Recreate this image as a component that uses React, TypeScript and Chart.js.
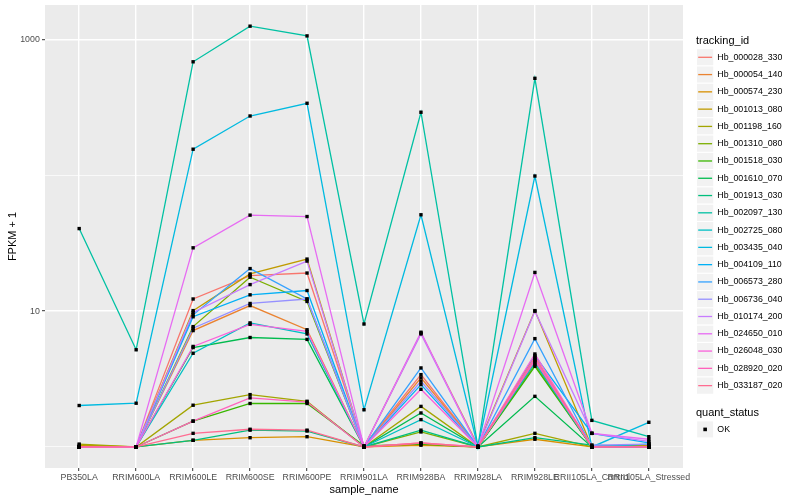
import React, { useEffect, useRef } from "react";
import { Chart, registerables } from "chart.js";

Chart.register(...registerables);

const FONT = "'Liberation Sans', Arial, Helvetica, sans-serif";

const categories = [
  "PB350LA",
  "RRIM600LA",
  "RRIM600LE",
  "RRIM600SE",
  "RRIM600PE",
  "RRIM901LA",
  "RRIM928BA",
  "RRIM928LA",
  "RRIM928LE",
  "RRII105LA_Control",
  "RRII105LA_Stressed",
];

const trackingIds = [
  "Hb_000028_330",
  "Hb_000054_140",
  "Hb_000574_230",
  "Hb_001013_080",
  "Hb_001198_160",
  "Hb_001310_080",
  "Hb_001518_030",
  "Hb_001610_070",
  "Hb_001913_030",
  "Hb_002097_130",
  "Hb_002725_080",
  "Hb_003435_040",
  "Hb_004109_110",
  "Hb_006573_280",
  "Hb_006736_040",
  "Hb_010174_200",
  "Hb_024650_010",
  "Hb_026048_030",
  "Hb_028920_020",
  "Hb_033187_020",
];

const seriesColors = [
  "#F8766D", "#EA8331", "#D89000", "#C09B00", "#A3A500",
  "#7CAE00", "#39B600", "#00BB4E", "#00BF7D", "#00C1A3",
  "#00BFC4", "#00BAE0", "#00B0F6", "#35A2FF", "#9590FF",
  "#C77CFF", "#E76BF3", "#FA62DB", "#FF62BC", "#FF6C91",
];

// FPKM + 1 per sample (same order as categories)
const hb000028_330 = [1.0, 1.0, 12.3, 18.3, 19.1, 1.02, 3.41, 1.0, 4.53, 1.0, 1.02];
const hb000054_140 = [1.0, 1.0, 7.2, 11.0, 7.3, 1.0, 3.23, 1.0, 4.27, 1.0, 1.0];
const hb000574_230 = [1.0, 1.0, 1.12, 1.17, 1.19, 1.0, 1.03, 1.0, 1.14, 1.0, 1.0];
const hb001013_080 = [1.03, 1.0, 10.1, 18.8, 24.2, 1.0, 6.9, 1.02, 10.1, 1.0, 1.03];
const hb001198_160 = [1.05, 1.0, 2.03, 2.43, 2.17, 1.0, 1.99, 1.0, 1.26, 1.0, 1.0];
const hb001310_080 = [1.0, 1.0, 7.7, 17.8, 11.8, 1.0, 1.29, 1.0, 4.04, 1.0, 1.0];
const hb001518_030 = [1.0, 1.0, 1.55, 2.09, 2.09, 1.02, 1.05, 1.0, 3.93, 1.0, 1.0];
const hb001610_070 = [1.0, 1.0, 5.4, 6.4, 6.2, 1.0, 1.78, 1.0, 2.36, 1.0, 1.0];
const hb001913_030 = [1.0, 1.0, 1.12, 1.33, 1.31, 1.0, 1.33, 1.0, 1.17, 1.03, 1.0];
const hb002097_130 = [40.6, 5.2, 687, 1257, 1066, 8.05, 292, 1.0, 519, 1.57, 1.19];
const hb002725_080 = [1.0, 1.0, 4.9, 8.2, 6.8, 1.0, 1.59, 1.0, 4.16, 1.0, 1.05];
const hb003435_040 = [2.02, 2.1, 156, 274, 340, 1.88, 51.3, 1.0, 99, 1.0, 1.52];
const hb004109_110 = [1.0, 1.0, 9.1, 13.2, 14.2, 1.0, 2.88, 1.0, 4.71, 1.26, 1.07];
const hb006573_280 = [1.0, 1.0, 9.4, 20.6, 12.3, 1.0, 3.82, 1.0, 6.28, 1.0, 1.0];
const hb006736_040 = [1.0, 1.0, 7.5, 11.4, 12.3, 1.0, 3.05, 1.0, 4.4, 1.03, 1.05];
const hb010174_200 = [1.0, 1.0, 9.8, 15.7, 23.4, 1.0, 6.8, 1.0, 10.0, 1.26, 1.1];
const hb024650_010 = [1.0, 1.0, 29.3, 51, 49.8, 1.0, 7.0, 1.0, 19.3, 1.26, 1.14];
const hb026048_030 = [1.0, 1.0, 5.5, 8.0, 7.1, 1.0, 2.66, 1.0, 4.84, 1.0, 1.0];
const hb028920_020 = [1.0, 1.0, 1.55, 2.3, 2.14, 1.0, 1.07, 1.0, 4.35, 1.0, 1.0];
const hb033187_020 = [1.0, 1.0, 1.26, 1.35, 1.33, 1.0, 1.07, 1.0, 4.6, 1.0, 1.0];

const seriesValues = [
  hb000028_330, hb000054_140, hb000574_230, hb001013_080, hb001198_160,
  hb001310_080, hb001518_030, hb001610_070, hb001913_030, hb002097_130,
  hb002725_080, hb003435_040, hb004109_110, hb006573_280, hb006736_040,
  hb010174_200, hb024650_010, hb026048_030, hb028920_020, hb033187_020,
];

const yGridValues = [1, 10, 100, 1000];
const yLabelValues = [10, 1000];

const panelBgPlugin = {
  id: "panelBg",
  beforeDraw(chart: any) {
    const { ctx, chartArea } = chart;
    ctx.save();
    ctx.fillStyle = "#FFFFFF";
    ctx.fillRect(0, 0, chart.width, chart.height);
    ctx.fillStyle = "#EBEBEB";
    ctx.fillRect(chartArea.left, chartArea.top, chartArea.right - chartArea.left, chartArea.bottom - chartArea.top);
    ctx.restore();
  },
};

const legendPlugin = {
  id: "ggLegend",
  afterDraw(chart: any) {
    const ctx = chart.ctx;
    ctx.save();
    ctx.textBaseline = "middle";
    ctx.textAlign = "left";
    const keyX = 696.5;
    const keyS = 17.28;
    const first = 57.3;
    ctx.fillStyle = "#000000";
    ctx.font = `11px ${FONT}`;
    ctx.fillText("tracking_id", 696, 40.7);
    trackingIds.forEach((id, i) => {
      const cy = first + i * keyS;
      ctx.fillStyle = "#F2F2F2";
      ctx.fillRect(keyX, cy - keyS / 2, keyS, keyS);
      ctx.strokeStyle = "#FFFFFF";
      ctx.lineWidth = 1;
      ctx.strokeRect(keyX, cy - keyS / 2, keyS, keyS);
      ctx.strokeStyle = seriesColors[i];
      ctx.lineWidth = 1.3;
      ctx.beginPath();
      ctx.moveTo(keyX + 1.7, cy);
      ctx.lineTo(keyX + keyS - 1.7, cy);
      ctx.stroke();
      ctx.fillStyle = "#000000";
      ctx.font = `8.8px ${FONT}`;
      ctx.fillText(id, 717.3, cy);
    });
    ctx.font = `11px ${FONT}`;
    ctx.fillStyle = "#000000";
    ctx.fillText("quant_status", 696, 413);
    const oy = 429.4;
    ctx.fillStyle = "#F2F2F2";
    ctx.fillRect(keyX, oy - keyS / 2, keyS, keyS);
    ctx.strokeStyle = "#FFFFFF";
    ctx.strokeRect(keyX, oy - keyS / 2, keyS, keyS);
    ctx.fillStyle = "#000000";
    ctx.fillRect(keyX + keyS / 2 - 1.8, oy - 1.8, 3.6, 3.6);
    ctx.font = `8.8px ${FONT}`;
    ctx.fillText("OK", 717.3, oy);
    ctx.restore();
  },
};

export default function App() {
  const canvasRef = useRef<HTMLCanvasElement | null>(null);

  useEffect(() => {
    document.body.style.margin = "0";
    const canvas = canvasRef.current;
    if (!canvas) return;

    const lineDatasets = seriesValues.map((vals, idx) => ({
      label: trackingIds[idx],
      data: vals.map((v, i) => ({ x: i + 1, y: v })),
      showLine: true,
      borderColor: seriesColors[idx],
      backgroundColor: seriesColors[idx],
      borderWidth: 1.3,
      pointRadius: 0,
      pointHoverRadius: 0,
      tension: 0,
      order: seriesValues.length - idx,
    }));

    const pointDataset = {
      label: "OK",
      data: seriesValues.flatMap((vals) => vals.map((v, i) => ({ x: i + 1, y: v }))),
      showLine: false,
      pointStyle: "rect",
      pointRadius: 2.4,
      pointHoverRadius: 2.4,
      backgroundColor: "#000000",
      borderColor: "#000000",
      borderWidth: 0,
      order: -1,
    };

    const chart = new Chart(canvas, {
      type: "scatter",
      data: { datasets: [...lineDatasets, pointDataset] as any },
      plugins: [panelBgPlugin, legendPlugin],
      options: {
        responsive: false,
        animation: false,
        events: [],
        layout: { padding: { left: 0, right: 117, top: 5, bottom: 0 } },
        plugins: {
          legend: { display: false },
          tooltip: { enabled: false },
        },
        scales: {
          x: {
            type: "linear",
            min: 0.4,
            max: 11.6,
            afterBuildTicks: (s: any) => {
              s.ticks = categories.map((_, i) => ({ value: i + 1 }));
            },
            afterFit: (s: any) => {
              s.height = 32;
              s.paddingLeft = 0;
              s.paddingRight = 0;
            },
            ticks: {
              autoSkip: false,
              maxRotation: 0,
              minRotation: 0,
              padding: 1.5,
              color: "#4D4D4D",
              font: { family: FONT, size: 8.8 },
              callback: (v: any) => categories[Math.round(Number(v)) - 1] ?? "",
            },
            grid: {
              color: "#FFFFFF",
              lineWidth: 1.4,
              drawTicks: true,
              tickLength: 3,
              tickColor: "#333333",
              tickWidth: 1,
            },
            border: { display: false },
            title: {
              display: true,
              text: "sample_name",
              color: "#000000",
              font: { family: FONT, size: 11 },
              padding: { top: 0, bottom: 3.4 },
            },
          },
          y: {
            type: "logarithmic",
            min: 0.7,
            max: 1800,
            afterBuildTicks: (s: any) => {
              s.ticks = yGridValues.map((v) => ({ value: v, major: yLabelValues.includes(v) }));
            },
            afterFit: (s: any) => {
              s.width = 45;
              s.paddingTop = 0;
              s.paddingBottom = 0;
            },
            ticks: {
              autoSkip: false,
              padding: 2.2,
              color: "#4D4D4D",
              font: { family: FONT, size: 8.8 },
              callback: (v: any) => (yLabelValues.includes(Number(v)) ? String(v) : ""),
            },
            grid: {
              color: "#FFFFFF",
              lineWidth: (c: any) => (c.tick && yLabelValues.includes(c.tick.value) ? 1.4 : 0.7),
              drawTicks: true,
              tickLength: 3,
              tickColor: (c: any) =>
                c.tick && yLabelValues.includes(c.tick.value) ? "#333333" : "rgba(0,0,0,0)",
              tickWidth: 1,
            },
            border: { display: false },
            title: {
              display: true,
              text: "FPKM + 1",
              color: "#000000",
              font: { family: FONT, size: 11 },
              padding: { top: 6.4, bottom: 0 },
            },
          },
        },
      } as any,
    });

    return () => {
      chart.destroy();
    };
  }, []);

  return (
    <div style={{ position: "absolute", left: 0, top: 0, width: 800, height: 500, background: "#FFFFFF" }}>
      <canvas ref={canvasRef} width={800} height={500} style={{ display: "block", width: 800, height: 500 }} />
    </div>
  );
}
